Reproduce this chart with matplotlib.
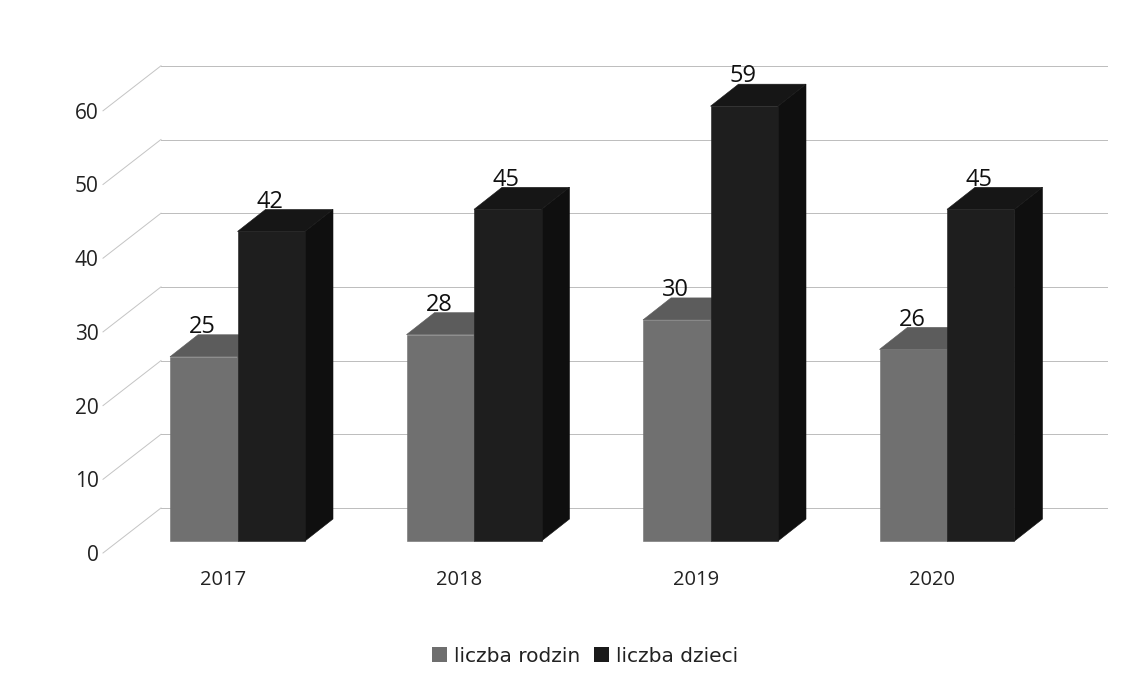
import matplotlib
matplotlib.use("Agg")
import matplotlib.pyplot as plt
from matplotlib.patches import Polygon, Patch

years = ["2017", "2018", "2019", "2020"]
liczba_rodzin = [25, 28, 30, 26]
liczba_dzieci = [42, 45, 59, 45]
y_ticks = [0, 10, 20, 30, 40, 50, 60]

W, H = 1146, 686
LEFT, RIGHT, BOTTOM, TOP = 103, 1107, 553, 66
PX_X = 236.5   # pixels per category
PX_Y = 7.37    # pixels per value unit

fig = plt.figure(figsize=(W / 100, H / 100), dpi=100)
ax = fig.add_axes([LEFT / W, 1 - BOTTOM / H, (RIGHT - LEFT) / W, (BOTTOM - TOP) / H])
ax.set_xlim((LEFT - 223) / PX_X, (RIGHT - 223) / PX_X)
ax.set_ylim(0, (BOTTOM - TOP) / PX_Y)
for s in ax.spines.values():
    s.set_visible(False)

ax.set_xticks(range(len(years)), years, fontfamily="Open Sans", fontsize=14.5, color="#222222")
ax.set_yticks(y_ticks, [str(v) for v in y_ticks], fontfamily="Open Sans", fontsize=15, color="#222222")
ax.tick_params(axis="both", length=0)
ax.tick_params(axis="x", pad=12)
ax.tick_params(axis="y", pad=3)

# back wall, in axis units
wall_dx = 58 / PX_X
wall_dy = 45 / PX_Y
for v in y_ticks:
    ax.plot([-120 / PX_X, wall_dx - 120 / PX_X], [v, v + wall_dy], color="#c4c4c4", lw=0.7, zorder=1, clip_on=False)
    ax.plot([wall_dx - 120 / PX_X, (RIGHT - 223) / PX_X], [v + wall_dy, v + wall_dy], color="#bcbcbc", lw=0.7, zorder=1, clip_on=False)

bar_w = 67.5 / PX_X
depth_dx = 28 / PX_X
depth_dy = 22 / PX_Y
shift_x = -53 / PX_X   # left edge of first bar relative to the tick
shift_y = 12 / PX_Y


def draw_bar(x0, value, front, top, side, z):
    y0 = shift_y
    y1 = y0 + value
    x1 = x0 + bar_w
    ax.add_patch(Polygon([(x1, y0), (x1 + depth_dx, y0 + depth_dy), (x1 + depth_dx, y1 + depth_dy), (x1, y1)],
                         closed=True, fc=side, ec=side, lw=0.4, zorder=z, clip_on=False))
    ax.add_patch(Polygon([(x0, y1), (x1, y1), (x1 + depth_dx, y1 + depth_dy), (x0 + depth_dx, y1 + depth_dy)],
                         closed=True, fc=top, ec=top, lw=0.4, zorder=z, clip_on=False))
    ax.add_patch(Polygon([(x0, y0), (x1, y0), (x1, y1), (x0, y1)],
                         closed=True, fc=front, ec=front, lw=0.4, zorder=z + 0.1, clip_on=False))
    ax.annotate(str(value), (x0 + bar_w / 2, y1 + depth_dy), xytext=(-1, -3), textcoords="offset points",
                ha="center", va="bottom", fontfamily="Open Sans", fontsize=17, color="#111111", zorder=10)


for i in range(len(years)):
    draw_bar(i + shift_x, liczba_rodzin[i], "#707070", "#5c5c5c", "#5c5c5c", 3)
    draw_bar(i + shift_x + bar_w, liczba_dzieci[i], "#1e1e1e", "#161616", "#0f0f0f", 4)

handles = [Patch(fc="#6e6e6e", label="liczba rodzin"), Patch(fc="#1a1a1a", label="liczba dzieci")]
fig.legend(handles=handles, loc="center", bbox_to_anchor=(585 / W, 1 - 656 / H), ncol=2, frameon=False,
           prop={"family": "DejaVu Sans", "size": 14.5}, handlelength=0.75, handleheight=0.75,
           handletextpad=0.35, columnspacing=0.7, labelcolor="#222222")

fig.savefig("out.png", dpi=100, facecolor="white")
